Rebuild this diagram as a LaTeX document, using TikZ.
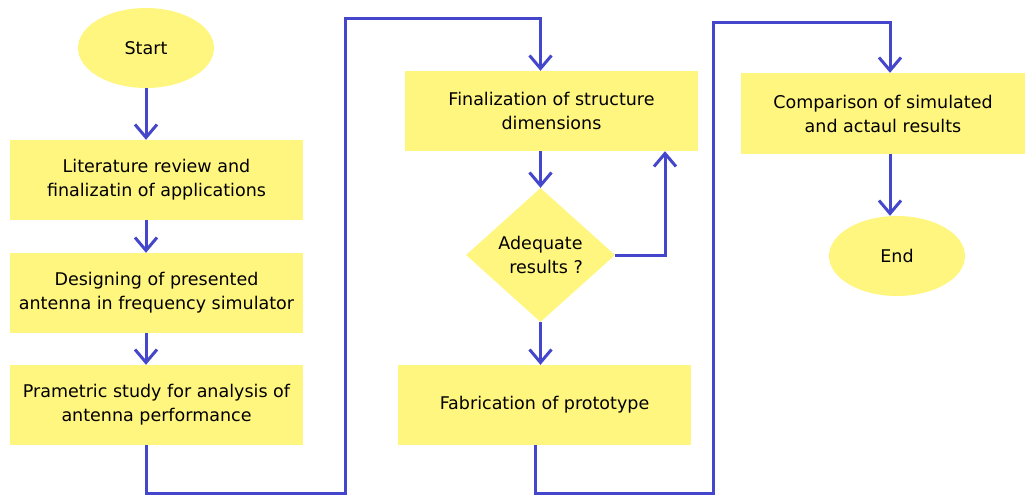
\documentclass[tikz,border=0pt]{standalone}
\usepackage{fontspec}
\setmainfont{DejaVu Sans}
\usetikzlibrary{shapes.geometric,arrows.meta}
\definecolor{boxyellow}{RGB}{255,246,128}
\definecolor{linkblue}{RGB}{68,71,204}
\begin{document}
\begin{tikzpicture}[x=1pt,y=-1pt,
  txt/.style={font=\fontsize{17.5}{24}\selectfont},
  box/.style={txt,fill=boxyellow,draw=none,minimum width=293pt,minimum height=80pt,inner sep=0pt,align=center},
  term/.style={txt,ellipse,fill=boxyellow,draw=none,minimum width=136pt,minimum height=80pt,inner sep=0pt},
  decide/.style={txt,diamond,fill=boxyellow,draw=none,minimum width=149pt,minimum height=134pt,inner sep=0pt,align=center},
  link/.style={draw=linkblue,line width=3pt,line join=miter},
  arr/.style={link,-{Straight Barb[length=13pt,width=22pt,line width=3pt]}}]
\useasboundingbox (0,0) rectangle (1025,496);
\node[term] (start) at (146,48) {Start};
\node[box] (b1) at (156.5,180) {Literature review and\\finalizatin of applications};
\node[box] (b2) at (156.5,293) {Designing of presented\\antenna in frequency simulator};
\node[box] (b3) at (156.5,405) {Prametric study for analysis of\\antenna performance};
\node[box] (b4) at (551.5,111) {Finalization of structure\\dimensions};
\node[decide] (dia) at (540.5,255) {Adequate\\\ \ results ?};
\node[box] (b5) at (544.5,405) {Fabrication of prototype};
\node[box,minimum width=284pt,minimum height=81pt] (b6) at (883,113.5) {Comparison of simulated\\and actaul results};
\node[term] (end) at (897,256) {End};
\coordinate (p1) at (146,493);
\coordinate (p2) at (345,493);
\coordinate (p3) at (345,18);
\coordinate (p4) at (540.5,18);
\coordinate (q1) at (535,493);
\coordinate (q2) at (713,493);
\coordinate (q3) at (713,22);
\coordinate (q4) at (890,22);
\coordinate (r1) at (665,255);
\draw[arr] (start.south) -- (start |- b1.north);
\draw[arr] (start |- b1.south) -- (start |- b2.north);
\draw[arr] (start |- b2.south) -- (start |- b3.north);
\draw[arr] (start |- b3.south) -- (p1) -- (p2) -- (p3) -- (p4) -- (dia |- b4.north);
\draw[arr] (dia |- b4.south) -- (dia.north);
\draw[arr] (dia.east) -- (r1) -- (r1 |- b4.south);
\draw[arr] (dia.south) -- (dia |- b5.north);
\draw[arr] (q1 |- b5.south) -- (q1) -- (q2) -- (q3) -- (q4) -- (q4 |- b6.north);
\draw[arr] (q4 |- b6.south) -- (q4 |- end.north);
\end{tikzpicture}
\end{document}
